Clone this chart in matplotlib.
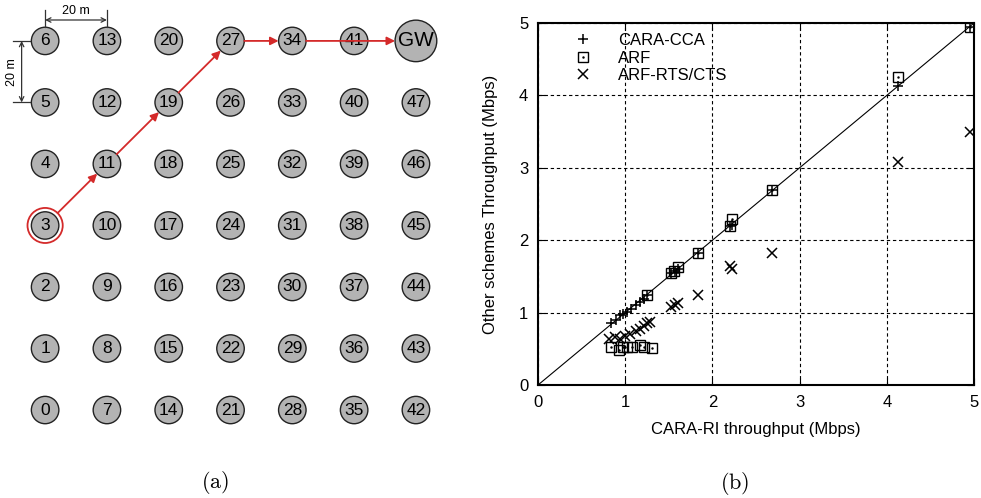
import matplotlib.pyplot as plt
from matplotlib.patches import Circle
from matplotlib.legend_handler import HandlerTuple

plt.rcParams['font.family'] = ['Liberation Sans', 'DejaVu Sans']
plt.rcParams['mathtext.fontset'] = 'cm'

# panel (a): 7x7 grid, 20 m spacing, node id = 7*col + row
n_cols, n_rows = 7, 7
spacing = 20
gw_id = 48
route = [3, 11, 19, 27, 34, 48]
source = 3

# panel (b): throughput (Mbps), x = CARA-RI, y = other scheme
cca_x = [0.84, 0.90, 0.94, 0.98, 1.02, 1.07, 1.12, 1.17, 1.21, 1.25, 1.53, 1.57, 1.60, 1.83, 2.20, 2.22, 2.68, 4.13, 4.95]
cca_y = [0.85, 0.90, 0.96, 0.98, 1.01, 1.05, 1.10, 1.15, 1.19, 1.24, 1.55, 1.57, 1.60, 1.83, 2.19, 2.21, 2.69, 4.13, 4.95]
arf_x = [0.84, 0.93, 0.97, 1.02, 1.08, 1.17, 1.21, 1.31, 1.25, 1.53, 1.56, 1.60, 1.83, 2.20, 2.22, 2.68, 4.13, 4.95]
arf_y = [0.52, 0.48, 0.52, 0.53, 0.52, 0.55, 0.52, 0.51, 1.25, 1.55, 1.58, 1.63, 1.83, 2.20, 2.29, 2.70, 4.25, 4.95]
rts_x = [0.81, 0.88, 0.94, 1.00, 1.05, 1.12, 1.17, 1.21, 1.25, 1.28, 1.53, 1.57, 1.60, 1.83, 2.20, 2.22, 2.68, 4.13, 4.95]
rts_y = [0.64, 0.66, 0.64, 0.67, 0.71, 0.75, 0.78, 0.82, 0.85, 0.87, 1.08, 1.11, 1.13, 1.24, 1.64, 1.60, 1.83, 3.08, 3.49]

fig = plt.figure(figsize=(9.81, 4.98), dpi=100)

# ---- (a) topology ----
axa = fig.add_axes([0, 0, 470 / 981, 1])
axa.set_xlim(-14.6, 137.5)
axa.set_ylim(-28.6, 133.3)
axa.axis('off')
px_per_m = 470 / (137.5 + 14.6)
m2pt = px_per_m * 72 / 100

node_r = 4.45
gw_r = 6.75
ring_r = 5.7

def pos(n):
    return (n // n_rows) * spacing, (n % n_rows) * spacing

for c in range(n_cols):
    for r in range(n_rows):
        n = c * n_rows + r
        x, y = pos(n)
        rad = gw_r if n == gw_id else node_r
        axa.add_patch(Circle((x, y), rad, facecolor='#b3b3b3', edgecolor='#222222', lw=1.0, zorder=2))
        label = 'GW' if n == gw_id else str(n)
        axa.text(x, y, label, ha='center', va='center', fontsize=15 if n == gw_id else 12.5, zorder=3)

sx, sy = pos(source)
axa.add_patch(Circle((sx, sy), ring_r, facecolor='none', edgecolor='#d42a2a', lw=1.3, zorder=2))

for a, b in zip(route[:-1], route[1:]):
    ra = ring_r if a == source else node_r
    rb = gw_r if b == gw_id else node_r
    axa.annotate('', xy=pos(b), xytext=pos(a),
                 arrowprops=dict(arrowstyle='-|>', color='#d42a2a', lw=1.3,
                                 mutation_scale=12, shrinkA=ra * m2pt, shrinkB=rb * m2pt),
                 zorder=5)

# dimension marks
dim_c = '#333333'
hy = 126.8
axa.annotate('', xy=(20, hy), xytext=(0, hy),
             arrowprops=dict(arrowstyle='<->', color=dim_c, lw=0.9, shrinkA=0, shrinkB=0, mutation_scale=8))
for xx in (0, 20):
    axa.plot([xx, xx], [124.5, 130.1], color=dim_c, lw=0.9)
axa.text(10, 129.6, '20 m', ha='center', va='center', fontsize=9)

vx = -7.6
axa.annotate('', xy=(vx, 100), xytext=(vx, 120),
             arrowprops=dict(arrowstyle='<->', color=dim_c, lw=0.9, shrinkA=0, shrinkB=0, mutation_scale=8))
for yy in (100, 120):
    axa.plot([-10.4, -4.9], [yy, yy], color=dim_c, lw=0.9)
axa.text(-10.6, 110, '20 m', ha='center', va='center', fontsize=9, rotation=90)

fig.text(215 / 981, 1 - 482 / 498, r'$\mathrm{(a)}$', ha='center', va='center', fontsize=16)
fig.text(735 / 981, 1 - 483 / 498, r'$\mathrm{(b)}$', ha='center', va='center', fontsize=16)

# ---- (b) scatter ----
axb = fig.add_axes([538 / 981, 113 / 498, 436 / 981, 362 / 498])
axb.plot([0, 5], [0, 5], color='black', lw=0.8)
h1, = axb.plot(cca_x, cca_y, '+', color='black', ms=7, mew=1.1, ls='none')
h2, = axb.plot(arf_x, arf_y, 's', mfc='none', mec='black', ms=7, mew=1.0, ls='none')
h2d, = axb.plot(arf_x, arf_y, '.', color='black', ms=1.5, ls='none')
h3, = axb.plot(rts_x, rts_y, 'x', color='black', ms=7, mew=1.1, ls='none')

axb.set_xlim(0, 5)
axb.set_ylim(0, 5)
axb.set_xticks(range(6))
axb.set_yticks(range(6))
axb.grid(True, color='black', linestyle=(0, (3, 2.5)), lw=0.8)
axb.tick_params(direction='in', top=True, right=True, labelsize=12, length=5)
axb.tick_params(axis='x', pad=7)
axb.tick_params(axis='y', pad=7)
for s in axb.spines.values():
    s.set_linewidth(1.5)
axb.set_xlabel('CARA-RI throughput (Mbps)', fontsize=12, labelpad=9)
axb.set_ylabel('Other schemes Throughput (Mbps)', fontsize=12, labelpad=15)

axb.legend([h1, (h2, h2d), h3], ['CARA-CCA', 'ARF', 'ARF-RTS/CTS'],
           handler_map={tuple: HandlerTuple(ndivide=1, pad=0)},
           loc='upper left', bbox_to_anchor=(0.05, 0.99), borderaxespad=0,
           frameon=False, fontsize=12, handlelength=2, handletextpad=1.1,
           labelspacing=0.15, numpoints=1)

fig.savefig('out.png', dpi=100)
